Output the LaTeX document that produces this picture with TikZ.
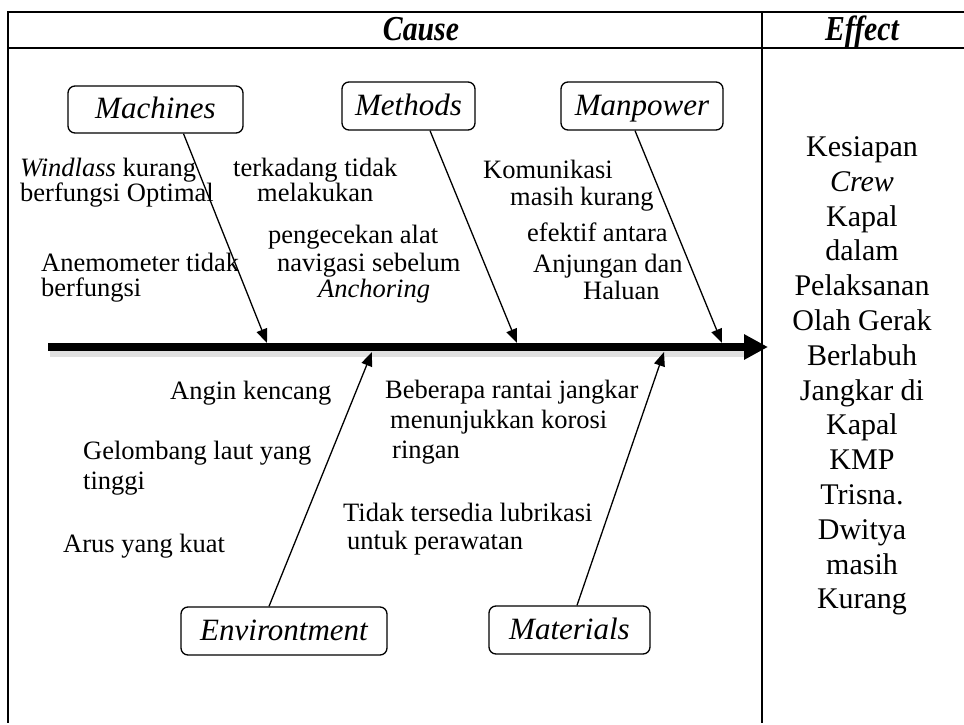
\documentclass[tikz,border=0pt]{standalone}
\usepackage{fontspec}
\setmainfont{Liberation Serif}
\newfontfamily\headf[FakeStretch=0.85]{Liberation Serif}
\usetikzlibrary{arrows.meta}
\begin{document}
\begin{tikzpicture}[x=1pt,y=-1pt,
  tline/.style={line width=2.6pt},
  catbox/.style={draw,line width=1.3pt,rounded corners=7pt,inner sep=0pt,
    text height=24pt,text depth=6pt,
    font=\itshape\fontsize{31}{33}\selectfont},
  cause/.style={anchor=mid west,inner sep=0pt,text height=16pt,text depth=4pt,
    yshift=-4pt,font=\fontsize{26.5}{28}\selectfont},
  bone/.style={line width=1.3pt,-{Triangle[length=14pt,width=11pt]}},
  spine/.style={line width=8pt,-{Triangle[length=24pt,width=24pt]}},
  head/.style={inner sep=0pt,text height=24pt,text depth=2pt,
    font=\headf\bfseries\itshape\fontsize{35}{36}\selectfont}]
\useasboundingbox (0,0) rectangle (964,725);
% table
\draw[tline] (964,12) -- (8,12) -- (8,723);
\draw[tline] (8,48) -- (964,48);
\draw[tline] (762,12) -- (762,723);
\node[head] (cause) at (421,30) {Cause};
\node[head] (effect) at (862,30) {Effect};
% spine
\draw[line width=9pt,black!12] (50,352) -- (748,352);
\coordinate (sL) at (48,347);
\coordinate (sR) at (768,347);
\draw[spine] (sL) -- (sR);
% category boxes
\node[catbox,minimum width=175pt,minimum height=47pt] (mach) at (155.5,109.5) {Machines};
\node[catbox,minimum width=133pt,minimum height=48pt] (meth) at (408.5,106) {Methods};
\node[catbox,minimum width=162pt,minimum height=48pt] (man) at (642,106) {Manpower};
\node[catbox,minimum width=206pt,minimum height=48pt] (env) at (284,631) {Environtment};
\node[catbox,minimum width=161pt,minimum height=48pt] (mat) at (569.5,630) {Materials};
% bone tips
\coordinate (tmach) at (267,343);
\coordinate (tmeth) at (517,343);
\coordinate (tman) at (722,343);
\coordinate (tenv) at (372,352);
\coordinate (tmat) at (664,352);
\draw[bone] ([xshift=28pt]mach.south) -- (tmach);
\draw[bone] ([xshift=21.5pt]meth.south) -- (tmeth);
\draw[bone] ([xshift=-7pt]man.south) -- (tman);
\draw[bone] ([xshift=-15pt]env.north) -- (tenv);
\draw[bone] ([xshift=7.5pt]mat.north) -- (tmat);
% machines causes
\node[cause] (ma1) at (20,170) {\textit{Windlass} kurang};
\node[cause] (ma2) at (20,195) {berfungsi Optimal};
\node[cause] (ma3) at (41,265) {Anemometer tidak};
\node[cause] (ma4) at (41,290) {berfungsi};
% methods causes
\node[cause] (me1) at (233,170) {terkadang tidak};
\node[cause] (me2) at (257,195) {melakukan};
\node[cause] (me3) at (268,237) {pengecekan alat};
\node[cause] (me4) at (277,265) {navigasi sebelum};
\node[cause] (me5) at (318,291) {\textit{Anchoring}};
% manpower causes
\node[cause] (mp1) at (483,172) {Komunikasi};
\node[cause] (mp2) at (510,199) {masih kurang};
\node[cause] (mp3) at (527,235) {efektif antara};
\node[cause] (mp4) at (533,266) {Anjungan dan};
\node[cause] (mp5) at (583,293) {Haluan};
% environment causes
\node[cause] (en1) at (170,393) {Angin kencang};
\node[cause] (en2) at (83,453) {Gelombang laut yang};
\node[cause] (en3) at (83,483) {tinggi};
\node[cause] (en4) at (63,546) {Arus yang kuat};
% materials causes
\node[cause] (mt1) at (385,392) {Beberapa rantai jangkar};
\node[cause] (mt2) at (390,422) {menunjukkan korosi};
\node[cause] (mt3) at (392,452) {ringan};
\node[cause] (mt4) at (343,515) {Tidak tersedia lubrikasi};
\node[cause] (mt5) at (347,543) {untuk perawatan};
% effect
\node[align=center,inner sep=0pt,font=\fontsize{30}{34.8}\selectfont] (eff) at (862,376)
  {Kesiapan\\\textit{Crew}\\Kapal\\dalam\\Pelaksanan\\Olah Gerak\\Berlabuh\\Jangkar di\\Kapal\\KMP\\Trisna.\\Dwitya\\masih\\Kurang};
\end{tikzpicture}
\end{document}
